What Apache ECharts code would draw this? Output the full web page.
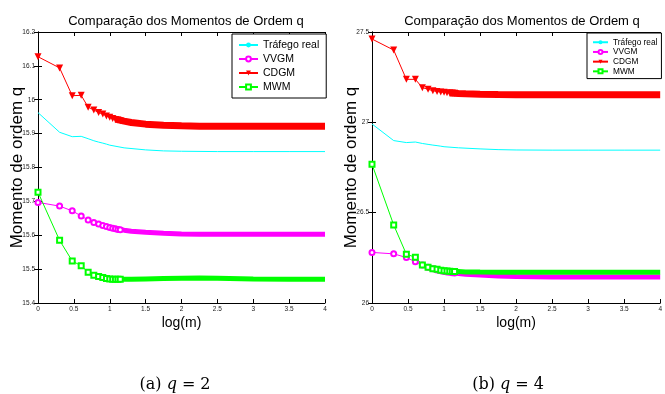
<!DOCTYPE html>
<html>
<head>
<meta charset="utf-8">
<script src="https://cdn.jsdelivr.net/npm/echarts@6/dist/echarts.min.js"></script>
<style>
  html, body { margin: 0; padding: 0; background: #fff; }
  #chart { width: 665px; height: 394px; }
</style>
</head>
<body>
<div id="chart"></div>
<script>
// log(m) positions, m = 1..14 (markers drawn one by one)
const headX = [0, 0.301, 0.477, 0.602, 0.699, 0.778, 0.845, 0.903, 0.954, 1, 1.041, 1.079, 1.114, 1.146];
// dense region where the markers merge into a band
const tailX = [1.08, 1.2, 1.3, 1.5, 1.75, 2, 2.25, 2.5, 3, 3.5, 4];
// real traffic curve
const realX = [0, 0.301, 0.477, 0.602, 0.699, 0.778, 0.845, 0.903, 0.954, 1, 1.2, 1.5, 1.75, 2, 2.5, 3, 3.5, 4];

// (a) q = 2
const realA = [15.962, 15.904, 15.891, 15.892, 15.885, 15.879, 15.875, 15.872, 15.869, 15.866, 15.858, 15.852, 15.849, 15.848, 15.847, 15.847, 15.847, 15.847];
const vvgmHeadA = [15.697, 15.686, 15.672, 15.657, 15.645, 15.638, 15.633, 15.629, 15.626, 15.623, 15.621, 15.619, 15.617, 15.616];
const vvgmTailA = [15.620, 15.615, 15.612, 15.609, 15.606, 15.604, 15.603, 15.603, 15.603, 15.603, 15.603];
const cdgmHeadA = [16.127, 16.094, 16.012, 16.013, 15.978, 15.970, 15.962, 15.958, 15.952, 15.948, 15.945, 15.942, 15.940, 15.938];
const cdgmTailA = [15.943, 15.937, 15.933, 15.928, 15.925, 15.923, 15.922, 15.922, 15.922, 15.922, 15.922];
const mwmHeadA = [15.727, 15.585, 15.524, 15.510, 15.491, 15.482, 15.478, 15.475, 15.472, 15.471, 15.470, 15.470, 15.470, 15.470];
const mwmTailA = [15.470, 15.470, 15.470, 15.471, 15.472, 15.473, 15.474, 15.473, 15.471, 15.470, 15.470];

// (b) q = 4
const realB = [26.991, 26.899, 26.888, 26.891, 26.883, 26.878, 26.874, 26.871, 26.868, 26.865, 26.859, 26.853, 26.849, 26.847, 26.846, 26.846, 26.846, 26.846];
const vvgmHeadB = [26.280, 26.272, 26.252, 26.228, 26.211, 26.198, 26.190, 26.183, 26.179, 26.175, 26.172, 26.170, 26.168, 26.166];
const vvgmTailB = [26.170, 26.163, 26.159, 26.155, 26.150, 26.146, 26.145, 26.144, 26.144, 26.144, 26.144];
const cdgmHeadB = [27.461, 27.400, 27.238, 27.238, 27.192, 27.183, 27.175, 27.171, 27.168, 27.166, 27.164, 27.163, 27.162, 27.161];
const cdgmTailB = [27.163, 27.160, 27.158, 27.156, 27.154, 27.153, 27.152, 27.152, 27.152, 27.152, 27.152];
const mwmHeadB = [26.768, 26.432, 26.270, 26.253, 26.211, 26.198, 26.190, 26.187, 26.181, 26.179, 26.177, 26.176, 26.175, 26.174];
const mwmTailB = [26.176, 26.174, 26.172, 26.171, 26.170, 26.170, 26.170, 26.170, 26.170, 26.170, 26.170];

const legendNames = ['Tráfego real', 'VVGM', 'CDGM', 'MWM'];
const titleText = 'Comparação dos Momentos de Ordem q';
const yName = 'Momento de ordem q';
const xName = 'log(m)';
const captions = ['(a) {i|q}{eq|=}2', '(b) {i|q}{eq|=}4'];

const FONT = 'Liberation Sans';
const SERIF = 'DejaVu Serif';
const zip = (xs, ys) => xs.map((x, i) => [x, ys[i]]);

const chart = echarts.init(document.getElementById('chart'), null, { renderer: 'canvas' });

function xAxes(gridIndex) {
  const base = {
    type: 'value', gridIndex, min: 0, max: 4, interval: 0.5,
    axisLine: { lineStyle: { color: '#000', width: 1 } },
    axisTick: { inside: true, length: 4, lineStyle: { color: '#000' } },
    splitLine: { show: false },
  };
  return [
    Object.assign({}, base, {
      position: 'bottom',
      axisLabel: { color: '#222', fontSize: 6.5, fontFamily: FONT, margin: 3 },
      name: xName, nameLocation: 'middle', nameGap: 13, nameMoveOverlap: false,
      nameTextStyle: { color: '#000', fontSize: 14, fontFamily: FONT },
    }),
    Object.assign({}, base, { position: 'top', axisLabel: { show: false } }),
  ];
}

function yAxes(gridIndex, min, max, interval) {
  const base = {
    type: 'value', gridIndex, min, max, interval,
    axisLine: { show: true, lineStyle: { color: '#000', width: 1 } },
    axisTick: { show: true, inside: true, length: 4, lineStyle: { color: '#000' } },
    splitLine: { show: false },
  };
  return [
    Object.assign({}, base, {
      position: 'left',
      axisLabel: { color: '#222', fontSize: 6.5, fontFamily: FONT, margin: 3 },
      name: yName, nameLocation: 'middle', nameGap: 12, nameMoveOverlap: false,
      nameTextStyle: { color: '#000', fontSize: 17, fontFamily: FONT },
    }),
    Object.assign({}, base, { position: 'right', axisLabel: { show: false } }),
  ];
}

function seriesFor(idx, real, vHead, vTail, cHead, cTail, mHead, mTail) {
  const common = { type: 'line', xAxisIndex: idx * 2, yAxisIndex: idx * 2, animation: false, silent: true };
  return [
    Object.assign({}, common, {
      name: 'Tráfego real', data: zip(realX, real), showSymbol: false, symbol: 'none',
      lineStyle: { color: '#00ffff', width: 1 }, itemStyle: { color: '#00ffff' },
    }),
    Object.assign({}, common, {
      name: 'VVGM band', data: zip(tailX, vTail), symbol: 'none',
      lineStyle: { color: '#ff00ff', width: 5 },
    }),
    Object.assign({}, common, {
      name: 'VVGM', data: zip(headX, vHead), symbol: 'emptyCircle', symbolSize: 5,
      lineStyle: { color: '#ff00ff', width: 1 }, itemStyle: { color: '#ff00ff', borderWidth: 1 },
    }),
    Object.assign({}, common, {
      name: 'CDGM band', data: zip(tailX, cTail), symbol: 'none',
      lineStyle: { color: '#ff0000', width: 7 },
    }),
    Object.assign({}, common, {
      name: 'CDGM', data: zip(headX, cHead), symbol: 'triangle', symbolRotate: 180, symbolSize: 7,
      lineStyle: { color: '#ff0000', width: 1 }, itemStyle: { color: '#ff0000' },
    }),
    Object.assign({}, common, {
      name: 'MWM band', data: zip(tailX, mTail), symbol: 'none',
      lineStyle: { color: '#00ff00', width: 5 },
    }),
    Object.assign({}, common, {
      name: 'MWM', data: zip(headX, mHead), symbol: 'emptyRect', symbolSize: 5,
      lineStyle: { color: '#00ff00', width: 1 }, itemStyle: { color: '#00ff00', borderWidth: 1 },
    }),
  ];
}

function caption(text, x) {
  return {
    text, left: x, top: 372, textAlign: 'center',
    textStyle: {
      fontSize: 16, fontWeight: 'normal', color: '#000', fontFamily: SERIF,
      rich: {
        i: { fontStyle: 'italic', fontSize: 16, fontFamily: SERIF, color: '#000' },
        eq: { fontSize: 16, fontFamily: SERIF, color: '#000', padding: [0, 5, 0, 5] },
      },
    },
  };
}

const option = {
  backgroundColor: '#fff',
  animation: false,
  title: [
    { text: titleText, left: 181, top: 10, textAlign: 'center',
      textStyle: { fontSize: 13, fontWeight: 'normal', color: '#000', fontFamily: FONT } },
    { text: titleText, left: 517, top: 10, textAlign: 'center',
      textStyle: { fontSize: 13, fontWeight: 'normal', color: '#000', fontFamily: FONT } },
    caption(captions[0], 170),
    caption(captions[1], 503),
  ],
  legend: [
    { data: legendNames, orient: 'vertical', left: 232, top: 34,
      backgroundColor: '#fff', borderColor: '#000', borderWidth: 1, borderRadius: 0,
      padding: [5, 7, 5, 6], itemGap: 2, itemWidth: 19, itemHeight: 6,
      textStyle: { fontSize: 10.5, fontFamily: FONT, color: '#000', lineHeight: 12 } },
    { data: legendNames, orient: 'vertical', left: 587, top: 33,
      backgroundColor: '#fff', borderColor: '#000', borderWidth: 1, borderRadius: 0,
      padding: [5, 4, 3, 5], itemGap: 1.2, itemWidth: 15, itemHeight: 5,
      textStyle: { fontSize: 8.3, fontFamily: FONT, color: '#000', lineHeight: 8.5 } },
  ],
  grid: [
    { left: 38, top: 32, width: 287, height: 271 },
    { left: 372, top: 32, width: 290, height: 271 },
  ],
  xAxis: [...xAxes(0), ...xAxes(1)],
  yAxis: [...yAxes(0, 15.4, 16.2, 0.1), ...yAxes(1, 26, 27.5, 0.5)],
  series: [
    ...seriesFor(0, realA, vvgmHeadA, vvgmTailA, cdgmHeadA, cdgmTailA, mwmHeadA, mwmTailA),
    ...seriesFor(1, realB, vvgmHeadB, vvgmTailB, cdgmHeadB, cdgmTailB, mwmHeadB, mwmTailB),
  ],
};

chart.setOption(option);
window.addEventListener('resize', () => chart.resize());
</script>
</body>
</html>
